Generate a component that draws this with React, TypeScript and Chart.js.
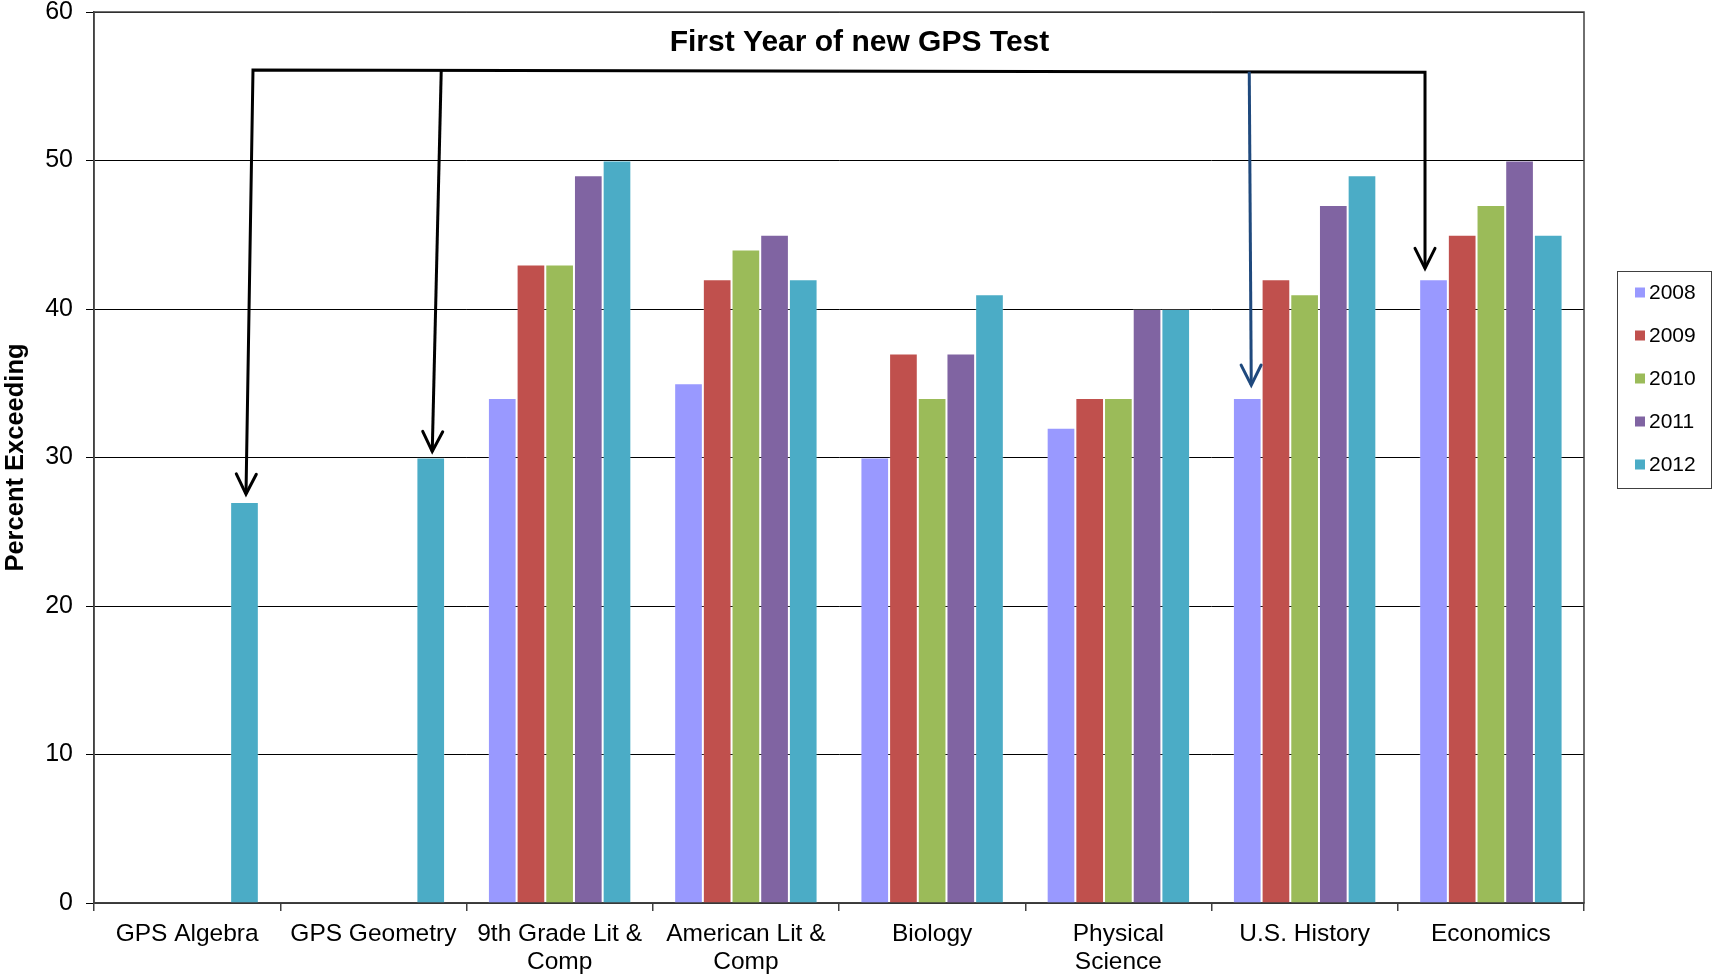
import React, { useEffect, useRef } from 'react';
import { Chart, registerables } from 'chart.js';

Chart.register(...registerables);

// ---------- data ----------
const CATEGORIES: (string | string[])[] = [
  'GPS Algebra',
  'GPS Geometry',
  ['9th Grade Lit &', 'Comp'],
  ['American Lit &', 'Comp'],
  'Biology',
  ['Physical', 'Science'],
  'U.S. History',
  'Economics',
];
const YEARS = ['2008', '2009', '2010', '2011', '2012'];
const VALUES_2008 = [null, null, 34, 35, 30, 32, 34, 42];
const VALUES_2009 = [null, null, 43, 42, 37, 34, 42, 45];
const VALUES_2010 = [null, null, 43, 44, 34, 34, 41, 47];
const VALUES_2011 = [null, null, 49, 45, 37, 40, 47, 50];
const VALUES_2012 = [27, 30, 50, 42, 41, 40, 49, 45];
const SERIES = [VALUES_2008, VALUES_2009, VALUES_2010, VALUES_2011, VALUES_2012];
const COLORS = ['#9999FF', '#C0504D', '#9BBB59', '#8064A2', '#4BACC6'];
const Y_MIN = 0;
const Y_MAX = 60;
const Y_STEP = 10;
const Y_TITLE = 'Percent Exceeding';
const NOTE_TEXT = 'First Year of new GPS Test';

// ---------- annotation styling ----------
const FONT = '"Liberation Sans", Arial, Helvetica, sans-serif';
const ARROWS = [
  { series: 4, cat: 0, color: '#000000', width: 3, startDx: 7, tipDx: 1.5, tipGap: 8 },
  { series: 4, cat: 1, color: '#000000', width: 3, startDx: 9, tipDx: 1.5, tipGap: 6 },
  { series: 0, cat: 6, color: '#1F497D', width: 3, startDx: -2, tipDx: 4, tipGap: 13 },
  { series: 0, cat: 7, color: '#000000', width: 3, startDx: 0, tipDx: -8.5, tipGap: 11 },
];
const CONNECTOR_LEFT_VALUE = 56.1;
const CONNECTOR_RIGHT_VALUE = 55.95;

function drawHead(ctx: CanvasRenderingContext2D, sx: number, sy: number, tx: number, ty: number) {
  const dx = tx - sx;
  const dy = ty - sy;
  const len = Math.hypot(dx, dy) || 1;
  const ux = dx / len;
  const uy = dy / len;
  const nx = -uy;
  const ny = ux;
  const L = 20;
  const W = 10;
  ctx.beginPath();
  ctx.moveTo(tx - ux * L + nx * W, ty - uy * L + ny * W);
  ctx.lineTo(tx, ty);
  ctx.lineTo(tx - ux * L - nx * W, ty - uy * L - ny * W);
  ctx.stroke();
}

const annotationPlugin = {
  id: 'gpsAnnotations',
  beforeDatasetsDraw(chart: any) {
    const { ctx, chartArea } = chart;
    ctx.save();
    ctx.strokeStyle = '#404040';
    ctx.lineWidth = 1.5;
    ctx.strokeRect(chartArea.left, chartArea.top, chartArea.right - chartArea.left, chartArea.bottom - chartArea.top);
    ctx.restore();
  },
  afterDatasetsDraw(chart: any) {
    const { ctx, chartArea, scales } = chart;
    const yS = scales.y;
    const xS = scales.x;
    ctx.save();

    // note text
    ctx.font = `bold 30px ${FONT}`;
    ctx.fillStyle = '#000';
    ctx.textAlign = 'center';
    ctx.textBaseline = 'alphabetic';
    ctx.fillText(NOTE_TEXT, xS.getPixelForValue(3.61), yS.getPixelForValue(57.4));

    // arrows
    const pts = ARROWS.map((a) => {
      const bar = chart.getDatasetMeta(a.series).data[a.cat];
      const tx = bar.x + a.tipDx;
      const ty = bar.y - a.tipGap;
      const sx = tx + a.startDx;
      return { ...a, tx, ty, sx };
    });
    const first = pts[0];
    const last = pts[pts.length - 1];
    const yl = yS.getPixelForValue(CONNECTOR_LEFT_VALUE);
    const yr = yS.getPixelForValue(CONNECTOR_RIGHT_VALUE);
    const connY = (x: number) => yl + ((x - first.sx) / (last.sx - first.sx)) * (yr - yl);

    ctx.lineJoin = 'miter';
    ctx.lineCap = 'butt';
    ctx.strokeStyle = '#000';
    ctx.lineWidth = 3;
    ctx.beginPath();
    ctx.moveTo(first.tx, first.ty);
    ctx.lineTo(first.sx, yl);
    ctx.lineTo(last.sx, yr);
    ctx.lineTo(last.tx, last.ty);
    ctx.stroke();
    ctx.lineCap = 'round';
    drawHead(ctx, first.sx, yl, first.tx, first.ty);
    drawHead(ctx, last.sx, yr, last.tx, last.ty);

    for (let i = 1; i < pts.length - 1; i++) {
      const p = pts[i];
      const sy = connY(p.sx);
      ctx.strokeStyle = p.color;
      ctx.lineWidth = p.width;
      ctx.lineCap = 'butt';
      ctx.beginPath();
      ctx.moveTo(p.sx, sy);
      ctx.lineTo(p.tx, p.ty);
      ctx.stroke();
      ctx.lineCap = 'round';
      drawHead(ctx, p.sx, sy, p.tx, p.ty);
    }

    // legend
    const lx = chartArea.right + 33;
    const ly = chartArea.top + 259;
    const lw = 94;
    const lh = 217;
    ctx.strokeStyle = '#404040';
    ctx.lineWidth = 1;
    ctx.strokeRect(lx + 0.5, ly + 0.5, lw, lh);
    ctx.font = `21px ${FONT}`;
    ctx.textAlign = 'left';
    ctx.textBaseline = 'middle';
    chart.data.datasets.forEach((ds: any, i: number) => {
      const cy = ly + 21.5 + i * 43;
      ctx.fillStyle = ds.backgroundColor;
      ctx.fillRect(lx + 18, cy - 5, 10, 10);
      ctx.fillStyle = '#000';
      ctx.fillText(ds.label, lx + 32, cy + 1);
    });

    ctx.restore();
  },
};

export default function App() {
  const canvasRef = useRef<HTMLCanvasElement | null>(null);

  useEffect(() => {
    if (!canvasRef.current) return;
    Chart.defaults.font.family = FONT;
    const chart = new Chart(canvasRef.current, {
      type: 'bar',
      data: {
        labels: CATEGORIES as any,
        datasets: YEARS.map((yr, i) => ({
          label: yr,
          data: SERIES[i] as any,
          backgroundColor: COLORS[i],
          borderColor: 'rgba(255,255,255,0.2)',
          borderWidth: 1,
          categoryPercentage: 0.77,
          barPercentage: 1,
        })),
      },
      options: {
        responsive: false,
        animation: false,
        layout: { padding: { left: 0, top: 12, right: 129, bottom: 0 } },
        plugins: {
          legend: { display: false },
          tooltip: { enabled: false },
          title: { display: false },
        },
        scales: {
          x: {
            ticks: {
              color: '#000',
              font: { size: 24.5, family: FONT, lineHeight: 1.16 },
              padding: 9,
              autoSkip: false,
              maxRotation: 0,
              minRotation: 0,
            },
            grid: { offset: true, drawOnChartArea: false, tickLength: 8, color: '#404040', lineWidth: 1.5 },
            border: { color: '#404040', width: 1.5 },
            afterFit: (s: any) => {
              s.height = 72;
            },
          },
          y: {
            min: Y_MIN,
            max: Y_MAX,
            ticks: {
              stepSize: Y_STEP,
              color: '#000',
              font: { size: 25, family: FONT, lineHeight: 1 },
              padding: 13,
            },
            grid: { color: '#000', lineWidth: 1, tickLength: 8, drawTicks: true },
            border: { display: true, color: '#404040', width: 1.5 },
            title: {
              display: true,
              text: Y_TITLE,
              color: '#000',
              font: { size: 25.5, weight: 'bold', family: FONT },
              padding: { top: 1, bottom: 0 },
            },
            afterFit: (s: any) => {
              s.width = 94;
              s.paddingTop = 0;
              s.paddingBottom = 0;
            },
          },
        },
      },
      plugins: [annotationPlugin],
    });
    return () => chart.destroy();
  }, []);

  return (
    <div style={{ position: 'fixed', left: 0, top: 0, width: 1713, height: 975, background: '#fff' }}>
      <canvas ref={canvasRef} width={1713} height={975} style={{ display: 'block' }} />
    </div>
  );
}
